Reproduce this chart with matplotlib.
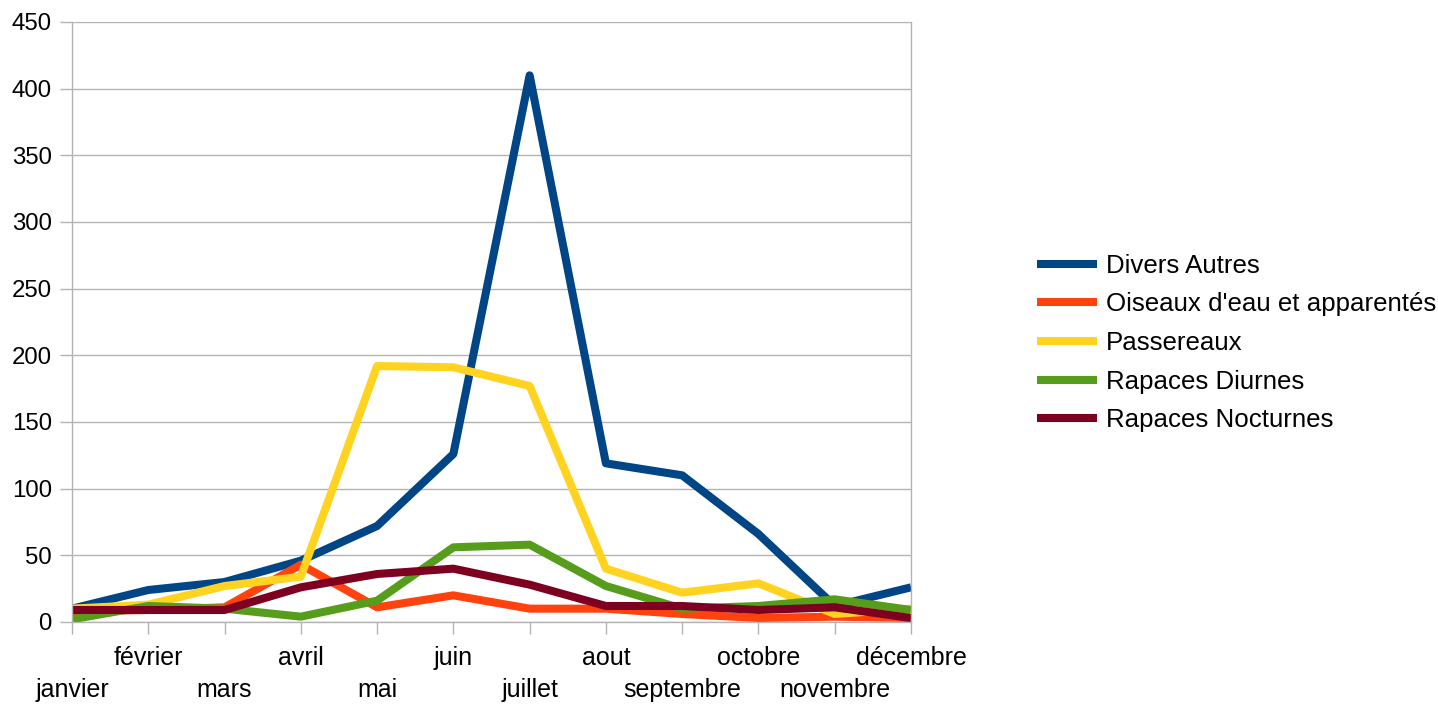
import matplotlib
matplotlib.use("Agg")
import matplotlib.pyplot as plt

months = ["janvier", "février", "mars", "avril", "mai", "juin", "juillet",
          "aout", "septembre", "octobre", "novembre", "décembre"]
divers_autres = [10, 24, 30, 46, 72, 126, 410, 119, 110, 66, 12, 26]
oiseaux_eau = [8, 9, 11, 43, 11, 20, 10, 10, 6, 3, 4, 3]
passereaux = [10, 13, 27, 34, 192, 191, 177, 40, 22, 29, 6, 10]
rapaces_diurnes = [2, 12, 10, 4, 16, 56, 58, 27, 10, 12, 17, 9]
rapaces_nocturnes = [9, 9, 9, 26, 36, 40, 28, 12, 12, 9, 11, 3]

series = [
    ("Divers Autres", divers_autres, "#004586"),
    ("Oiseaux d'eau et apparentés", oiseaux_eau, "#ff420e"),
    ("Passereaux", passereaux, "#ffd320"),
    ("Rapaces Diurnes", rapaces_diurnes, "#579d1c"),
    ("Rapaces Nocturnes", rapaces_nocturnes, "#7e0021"),
]
yticks = [0, 50, 100, 150, 200, 250, 300, 350, 400, 450]

plt.rcParams['font.family'] = ['Liberation Sans', 'DejaVu Sans']

fig = plt.figure(figsize=(14.38, 7.04), dpi=100)
ax = fig.add_axes([72/1438, 1-622/704, (911-72)/1438, 600/704])

x = list(range(len(months)))
for name, vals, col in series:
    ax.plot(x, vals, color=col, lw=5.8, label=name,
            solid_joinstyle='round', solid_capstyle='butt')

ax.set_xlim(0, len(months)-1)
ax.set_ylim(0, 450)
ax.set_yticks(yticks)
ax.set_yticklabels([str(v) for v in yticks])
ax.grid(axis='y', color='#b3b3b3', lw=1)
ax.set_axisbelow(True)

ax.set_xticks(x)
labels = [("\n" + m) if i % 2 == 0 else m for i, m in enumerate(months)]
ax.set_xticklabels(labels)

for s in ['left', 'right', 'bottom', 'top']:
    ax.spines[s].set_color('#b3b3b3')
    ax.spines[s].set_linewidth(1)
ax.spines['top'].set_visible(False)

ax.tick_params(axis='both', colors='#b3b3b3', length=8.5, width=1,
               labelcolor='black')
ax.tick_params(axis='x', pad=9, labelsize=18)
ax.tick_params(axis='y', pad=6, labelsize=17.3)
for t in ax.get_xticklabels():
    t.set_linespacing(1.4)

leg = fig.legend(loc='center left', bbox_to_anchor=(1037/1438, 1-343/704),
                 frameon=False, fontsize=18.6, handlelength=2.33,
                 handletextpad=0.35, labelspacing=0.57, borderpad=0,
                 borderaxespad=0)

fig.savefig("out.png", dpi=100)
